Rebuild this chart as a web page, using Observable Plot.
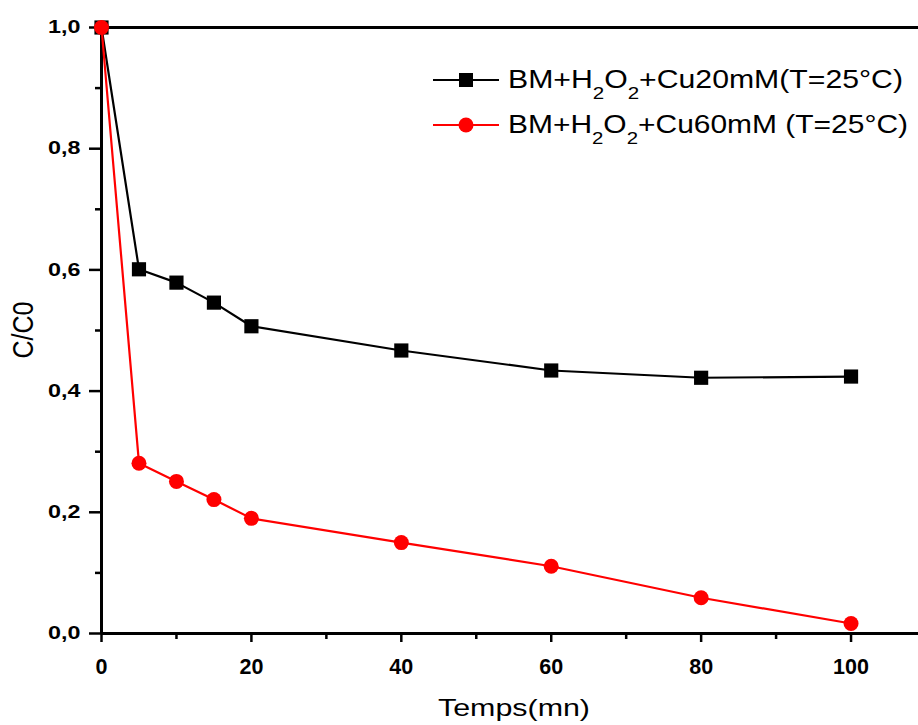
<!DOCTYPE html>
<html>
<head>
<meta charset="utf-8">
<script src="https://cdn.jsdelivr.net/npm/d3@7"></script>
<script src="https://cdn.jsdelivr.net/npm/@observablehq/plot@0.6"></script>
<style>
  html, body { margin: 0; padding: 0; background: #fff; }
  #chart { position: relative; width: 918px; height: 725px; }
  svg { font-family: "Liberation Sans", Arial, sans-serif; }
</style>
</head>
<body>
<div id="chart"></div>
<script>
const times = [0, 5, 10, 15, 20, 40, 60, 80, 100];
const cu20 = [1.0, 0.601, 0.579, 0.546, 0.507, 0.467, 0.434, 0.422, 0.424];
const cu60 = [1.0, 0.281, 0.251, 0.221, 0.190, 0.150, 0.111, 0.059, 0.0165];
const seriesNames = ["BM+H2O2+Cu20mM(T=25°C)", "BM+H2O2+Cu60mM (T=25°C)"];
const xMajor = [0, 20, 40, 60, 80, 100];
const xMinor = [10, 30, 50, 70, 90];
const yMajor = [0, 0.2, 0.4, 0.6, 0.8, 1.0];
const yMinor = [0.1, 0.3, 0.5, 0.7, 0.9];

const d20 = times.map((t, i) => ({t, v: cu20[i]}));
const d60 = times.map((t, i) => ({t, v: cu60[i]}));
const fmtY = d => d3.format(".1f")(d).replace(".", ",");

const plot = Plot.plot({
  width: 918,
  height: 725,
  marginLeft: 101,
  marginRight: 0,
  marginTop: 27,
  marginBottom: 92,
  x: {domain: [0, 109]},
  y: {domain: [0, 1]},
  style: {fontFamily: "Liberation Sans, Arial, sans-serif", color: "#000", background: "#fff"},
  marks: [
    Plot.axisX({ticks: xMinor, tickSize: 6, tickFormat: () => "", strokeWidth: 2.5, label: null}),
    Plot.axisX({ticks: xMajor, tickSize: 9, tickPadding: 16, strokeWidth: 2.5, fontSize: 21.5, fontWeight: "bold", label: null}),
    Plot.axisY({ticks: yMinor, tickSize: 6, tickFormat: () => "", strokeWidth: 2.5, label: null}),
    Plot.axisY({ticks: yMajor, tickSize: 12, tickPadding: 9, strokeWidth: 2.5, fontSize: 17.5, fontWeight: "bold", tickFormat: fmtY, label: null}),
    Plot.ruleX([0], {stroke: "#000", strokeWidth: 3}),
    Plot.ruleY([0], {stroke: "#000", strokeWidth: 3}),
    Plot.ruleY([1], {stroke: "#000", strokeWidth: 3}),
    Plot.line(d20, {x: "t", y: "v", stroke: "#000", strokeWidth: 2.2}),
    Plot.dot(d20, {x: "t", y: "v", symbol: "square", r: 8, fill: "#000", stroke: "none"}),
    Plot.line(d60, {x: "t", y: "v", stroke: "#ff0000", strokeWidth: 2.2}),
    Plot.dot(d60, {x: "t", y: "v", symbol: "circle", r: 7.5, fill: "#ff0000", stroke: "none"})
  ]
});

document.getElementById("chart").appendChild(plot);
const svg = d3.select(plot);

// X tick labels: bold, larger
svg.selectAll("[aria-label='x-axis tick label'] text")
  .style("font-size", "21.5px").style("font-weight", "bold");

// Y tick labels: bold, horizontally widened like the reference
svg.selectAll("[aria-label='y-axis tick label'] text")
  .style("font-size", "17.5px").style("font-weight", "bold")
  .each(function() {
    this.removeAttribute("textLength");
    const len = this.getComputedTextLength();
    if (len > 0) {
      this.setAttribute("textLength", (len * 1.33).toFixed(1));
      this.setAttribute("lengthAdjust", "spacingAndGlyphs");
    }
  });

// Axis titles
svg.append("text").attr("x", 514).attr("y", 716).attr("text-anchor", "middle")
  .style("font-size", "24px").attr("fill", "#000")
  .attr("textLength", 152).attr("lengthAdjust", "spacingAndGlyphs")
  .text("Temps(mn)");
svg.append("text").attr("transform", "translate(33,330) rotate(-90) scale(1,1.15)").attr("text-anchor", "middle")
  .style("font-size", "25px").attr("fill", "#000")
  .text("C/C0");

// Legend
const legend = svg.append("g")
  .attr("font-family", "Liberation Sans, Arial, sans-serif")
  .attr("text-anchor", "start");
const items = [
  {name: seriesNames[0], color: "#000", sym: "square", y: 80, len: 395, label: ["BM+H", "2", "O", "2", "+Cu20mM(T=25°C)"]},
  {name: seriesNames[1], color: "#ff0000", sym: "circle", y: 125, len: 400, label: ["BM+H", "2", "O", "2", "+Cu60mM (T=25°C)"]}
];
items.forEach(it => {
  legend.append("line").attr("x1", 433).attr("x2", 499).attr("y1", it.y).attr("y2", it.y)
    .attr("stroke", it.color).attr("stroke-width", 2.2);
  if (it.sym === "square") {
    legend.append("rect").attr("x", 459).attr("y", it.y - 7).attr("width", 14).attr("height", 14).attr("fill", it.color);
  } else {
    legend.append("circle").attr("cx", 466).attr("cy", it.y).attr("r", 7.5).attr("fill", it.color);
  }
  const t = legend.append("text").attr("x", 508).attr("y", it.y + 8).attr("fill", "#000")
    .style("font-size", "25px").attr("text-anchor", "start")
    .attr("textLength", it.len).attr("lengthAdjust", "spacingAndGlyphs");
  it.label.forEach((s, i) => {
    const sub = (i === 1 || i === 3);
    t.append("tspan").text(s)
      .style("font-size", sub ? "17px" : "25px")
      .attr("dy", sub ? 11 : (i === 0 ? 0 : -11));
  });
});
</script>
</body>
</html>
